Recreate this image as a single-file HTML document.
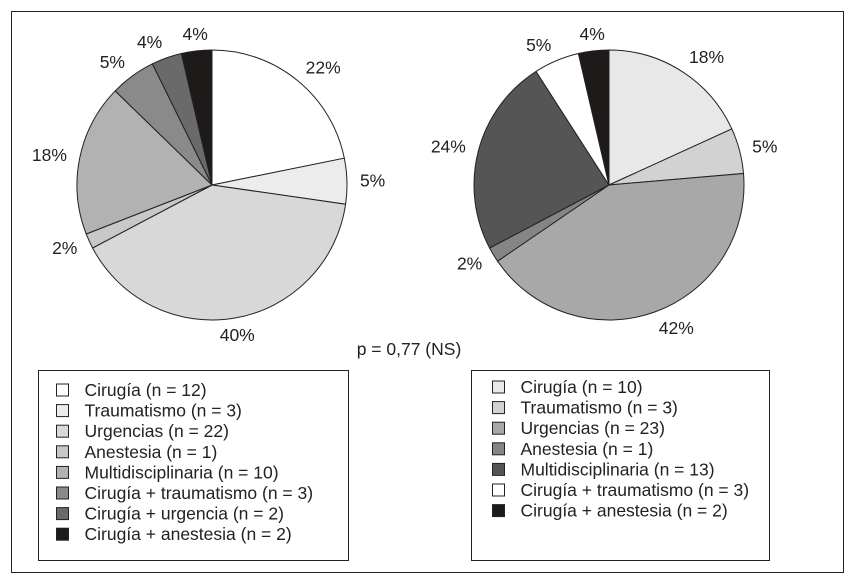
<!DOCTYPE html>
<html><head><meta charset="utf-8">
<style>
body{margin:0;background:#fff;}
svg text{font-family:"Liberation Sans",sans-serif;fill:#222;}
</style></head>
<body>
<svg width="855" height="583" viewBox="0 0 855 583">
<rect x="11.5" y="11.5" width="832" height="561" fill="#fff" stroke="#222" stroke-width="1"/>
<g id="pies"></g>
<text x="409" y="355" font-size="17.5" text-anchor="middle">p = 0,77 (NS)</text>
<rect x="38.5" y="370.5" width="310" height="190" fill="none" stroke="#222"/>
<rect x="471.5" y="370.5" width="298" height="190" fill="none" stroke="#222"/>
<g id="legends"></g>
</svg>
<script>
const leftLabels=["Cirugía","Traumatismo","Urgencias","Anestesia","Multidisciplinaria","Cirugía + traumatismo","Cirugía + urgencia","Cirugía + anestesia"];
const leftValues=[12,3,22,1,10,3,2,2];
const leftPct=["22%","5%","40%","2%","18%","5%","4%","4%"];
const leftColors=["#ffffff","#ececec","#d8d8d8","#c8c8c8","#b2b2b2","#8a8a8a","#6a6a6a","#1e1a1a"];
const rightLabels=["Cirugía","Traumatismo","Urgencias","Anestesia","Multidisciplinaria","Cirugía + traumatismo","Cirugía + anestesia"];
const rightValues=[10,3,23,1,13,3,2];
const rightPct=["18%","5%","42%","2%","24%","5%","4%"];
const rightColors=["#e8e8e8","#d2d2d2","#a8a8a8","#858585","#555555","#ffffff","#1e1a1a"];

const NS="http://www.w3.org/2000/svg";
function mk(tag,attrs,parent){const e=document.createElementNS(NS,tag);for(const k in attrs)e.setAttribute(k,attrs[k]);parent.appendChild(e);return e;}
function drawPie(cx,cy,r,values,colors,pct,side){
  const g=document.getElementById('pies');
  const total=values.reduce((a,b)=>a+b,0);
  let a0=0;
  values.forEach((v,i)=>{
    const a1=a0+v/total*2*Math.PI;
    const x0=cx+r*Math.sin(a0),y0=cy-r*Math.cos(a0);
    const x1=cx+r*Math.sin(a1),y1=cy-r*Math.cos(a1);
    const large=(a1-a0)>Math.PI?1:0;
    const p=mk('path',{d:`M${cx},${cy} L${x0},${y0} A${r},${r} 0 ${large} 1 ${x1},${y1} Z`,fill:colors[i],stroke:'#222','stroke-width':1},g);
    
    
    const am=(a0+a1)/2;
    const lr=r+13;
    const lx=cx+lr*Math.sin(am),ly=cy-lr*Math.cos(am)+6-4*Math.cos(am);
    const s=Math.sin(am);
    const t=mk('text',{x:lx,y:ly,'font-size':17.5,'text-anchor':s>0.3?'start':(s<-0.3?'end':'middle')},g);
    t.textContent=pct[i];
    
    
    a0=a1;
  });
}
function drawLegend(x,y,labels,values,colors,side){
  const g=document.getElementById('legends');
  labels.forEach((l,i)=>{
    const yy=y+i*20.6;
    const r=mk('rect',{x:x,y:yy-12,width:12,height:12,fill:colors[i],stroke:'#222','stroke-width':1},g);
    
    
    const t=mk('text',{x:x+28,y:yy,'font-size':17.5},g);
    t.textContent=l+' (n = '+values[i]+')';
    
    
  });
}
drawPie(212,185,135,leftValues,leftColors,leftPct,'left');
drawPie(609,185,135,rightValues,rightColors,rightPct,'right');
drawLegend(56.5,396,leftLabels,leftValues,leftColors,'left');
drawLegend(492.5,393,rightLabels,rightValues,rightColors,'right');
</script>
</body></html>
